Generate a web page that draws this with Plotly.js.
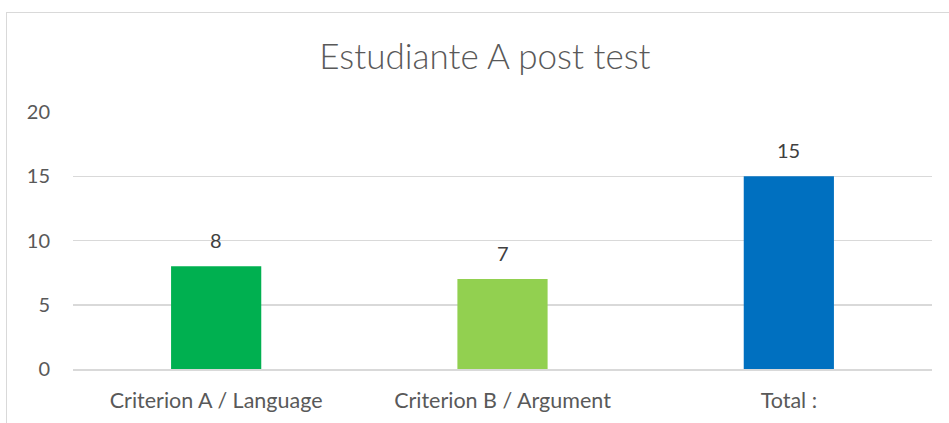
<!DOCTYPE html>
<html><head><meta charset="utf-8">
<script src="https://cdn.plot.ly/plotly-3.0.1.min.js"></script>
<style>
html,body{margin:0;padding:0;background:#fff;}
#wrap{position:relative;width:949px;height:423px;}
#frame{position:absolute;left:6px;top:12px;width:960px;height:430px;border-left:1.5px solid #d9d9d9;border-top:1.5px solid #d9d9d9;}
#chart{position:absolute;left:0;top:0;width:949px;height:423px;}
</style></head>
<body><div id="wrap"><div id="frame"></div><div id="chart"></div></div>
<script>
const categories = ["Criterion A / Language", "Criterion B / Argument", "Total :"];
const values = [8, 7, 15];
const colors = ["#00B050", "#92D050", "#0070C0"];
const yTicks = [0, 5, 10, 15, 20];

const font = "Lato, 'Open Sans', sans-serif";
const trace = {
  type: "bar", x: categories, y: values,
  marker: {color: colors},
  hoverinfo: "none"
};
const annotations = categories.map((c, i) => ({
  x: c, y: values[i], text: String(values[i]), showarrow: false,
  yanchor: "bottom", yshift: 12, font: {family: font, size: 20, color: "#404040"}
}));
const layout = {
  width: 949, height: 423,
  margin: {l: 73, r: 17, t: 112, b: 54},
  paper_bgcolor: "rgba(0,0,0,0)", plot_bgcolor: "rgba(0,0,0,0)",
  bargap: 0.685,
  showlegend: false,
  title: {text: "Estudiante A post test", x: 0.511, xanchor: "center", y: 0.865, yanchor: "middle",
          font: {family: font, size: 35, weight: 300, color: "#595959"}},
  xaxis: {type: "category", showgrid: false, zeroline: false, showline: true, linecolor: "#d9d9d9", linewidth: 1.5,
          ticks: "", tickfont: {family: font, size: 21.5, color: "#595959"}, ticklabelstandoff: 12, fixedrange: true},
  yaxis: {range: [0, 20], tickvals: yTicks, showgrid: true, gridcolor: "#d9d9d9", gridwidth: 1.5, zeroline: false,
          showline: false, ticks: "", tickfont: {family: font, size: 20, color: "#595959"}, ticklabelstandoff: 22, fixedrange: true},
  annotations: annotations
};
Plotly.newPlot("chart", [trace], layout, {displayModeBar: false, staticPlot: true});
</script></body></html>
